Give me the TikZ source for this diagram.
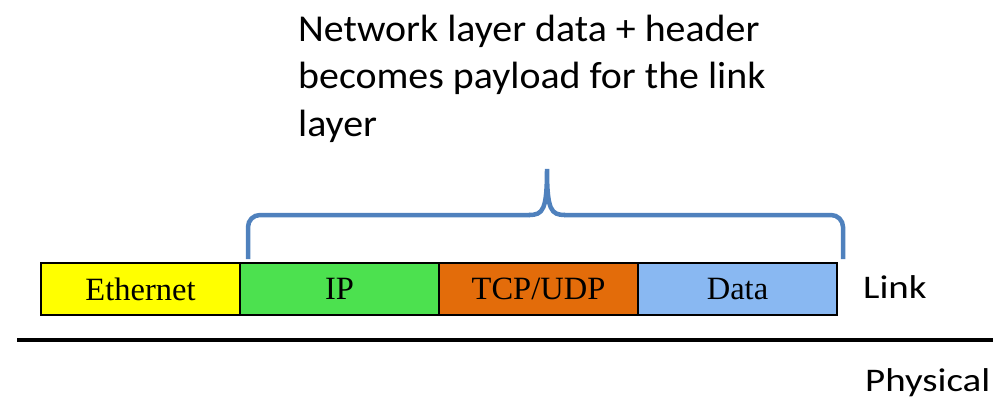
\documentclass[tikz,border=0pt]{standalone}
\usepackage{fontspec}
\setmainfont{Carlito}
\newfontfamily\boxfont{Liberation Serif}
\definecolor{ethyellow}{HTML}{FFFF00}
\definecolor{ipgreen}{HTML}{4CE14F}
\definecolor{tcporange}{HTML}{E36C0A}
\definecolor{datablue}{HTML}{89B8F2}
\definecolor{bracepen}{HTML}{4F81BD}
\begin{document}
\begin{tikzpicture}[x=1pt,y=-1pt,
  field/.style={draw=black, line width=1.3pt, minimum width=199pt, minimum height=52pt,
    inner sep=0pt, font=\boxfont\fontsize{32.5}{36}\selectfont},
  layername/.style={anchor=base west, inner sep=0pt, font=\fontsize{33}{40}\selectfont}]
\useasboundingbox (0,0) rectangle (1006,398);

% frame fields
\node[field, fill=ethyellow] (eth) at (140.5,289) {Ethernet};
\node[field, fill=ipgreen] (ip) at (339.5,289) {IP};
\node[field, fill=tcporange] (tcp) at (538.5,289) {TCP/UDP};
\node[field, fill=datablue] (data) at (737.5,289) {Data};

% layer boundary
\coordinate (lineL) at (17,340);
\coordinate (lineR) at (993,340);
\draw[line width=4pt] (lineL) -- (lineR);

\node[layername] (link) at (863,298) {\scalebox{1.18}[1]{Link}};
\node[layername] (phys) at (865,391) {\scalebox{1.18}[1]{Physical}};

% brace over IP + TCP/UDP + Data
\coordinate (bl) at (248,259);
\coordinate (br) at (843,259);
\draw[bracepen, line width=4.5pt, rounded corners=12pt]
  (bl) -- (248,215) -- (530,215);
\draw[bracepen, line width=4.5pt]
  (529,215) .. controls (543,215) and (547,210) .. (547,169)
  .. controls (547,210) and (551,215) .. (565,215);
\draw[bracepen, line width=4.5pt, rounded corners=12pt]
  (564,215) -- (843,215) -- (br);

\node[anchor=north west, inner sep=0pt, align=left,
  font=\fontsize{38}{47.5}\selectfont] (caption) at (298,14.5)
  {\scalebox{1.05}[1]{Network layer data + header}\\
   \scalebox{1.05}[1]{becomes payload for the link}\\
   \scalebox{1.05}[1]{layer}};
\end{tikzpicture}
\end{document}
